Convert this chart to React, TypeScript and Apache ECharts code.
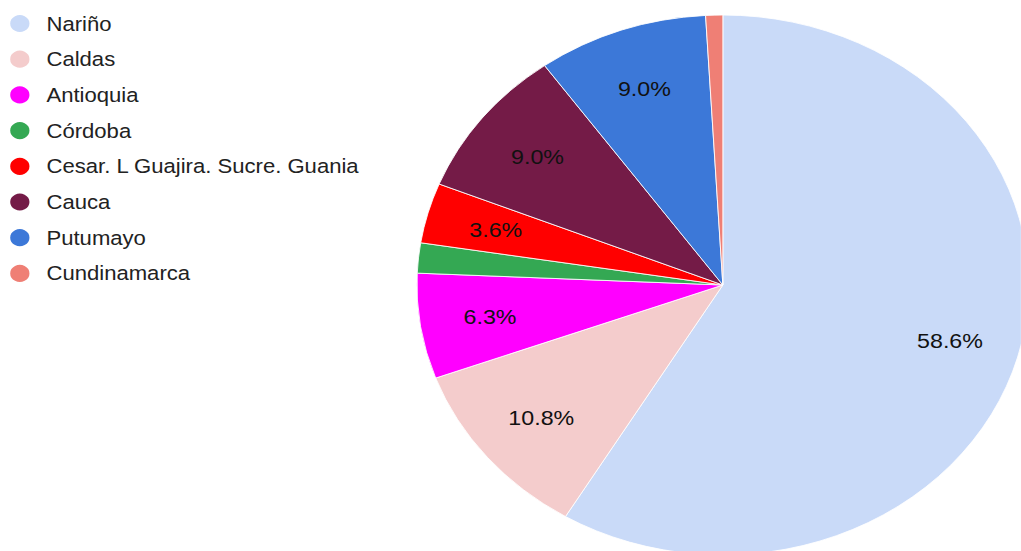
import React, { useEffect, useRef } from "react";
import * as echarts from "echarts";

const categories = [
  "Nariño",
  "Caldas",
  "Antioquia",
  "Córdoba",
  "Cesar. L Guajira. Sucre. Guania",
  "Cauca",
  "Putumayo",
  "Cundinamarca",
];
const shares = [58.6, 10.8, 6.3, 1.8, 3.6, 9.0, 9.0, 0.9];
const colors = [
  "#c9daf8",
  "#f4cccc",
  "#ff00ff",
  "#34a853",
  "#ff0000",
  "#741b47",
  "#3c78d8",
  "#ef7f75",
];

const STRETCH = 1.133;
const FULL_W = 1021;
const FULL_H = 551;
const CHART_W = Math.round(FULL_W / STRETCH);
const FONT = "'Liberation Sans', Arial, Helvetica, sans-serif";

export default function App() {
  const ref = useRef<HTMLDivElement>(null);
  useEffect(() => {
    if (!ref.current) return;
    const chart = echarts.init(ref.current, undefined, { renderer: "svg" });
    const center = [638, 285];
    chart.setOption({
      animation: false,
      backgroundColor: "#ffffff",
      color: colors,
      textStyle: { fontFamily: FONT },
      legend: {
        orient: "vertical",
        left: 2,
        top: 8,
        icon: "circle",
        itemWidth: 37,
        itemHeight: 19,
        itemGap: 14.7,
        data: categories,
        textStyle: { fontSize: 19.5, color: "#222222", fontFamily: FONT },
      },
      series: [
        {
          type: "pie",
          center,
          radius: 270,
          startAngle: 90,
          clockwise: true,
          avoidLabelOverlap: false,
          label: { show: false },
          labelLine: { show: false },
          itemStyle: { borderColor: "#ffffff", borderWidth: 0.8 },
          data: categories.map((name, i) => ({
            name,
            value: shares[i],
            itemStyle: { color: colors[i] },
          })),
        },
        {
          type: "pie",
          center,
          radius: [140, 270],
          startAngle: 90,
          clockwise: true,
          silent: true,
          legendHoverLink: false,
          avoidLabelOverlap: false,
          labelLine: { show: false },
          itemStyle: { color: "rgba(0,0,0,0)" },
          label: {
            show: true,
            position: "inside",
            fontSize: 20.5,
            color: "#111111",
            fontFamily: FONT,
            formatter: (p: any) => (p.value >= 3 ? p.value.toFixed(1) + "%" : ""),
          },
          data: categories.map((name, i) => ({
            name,
            value: shares[i],
            itemStyle: { color: "rgba(0,0,0,0)" },
          })),
        },
      ],
    });
    return () => chart.dispose();
  }, []);

  return (
    <div
      style={{
        position: "fixed",
        left: 0,
        top: 0,
        width: FULL_W,
        height: FULL_H,
        overflow: "hidden",
        background: "#ffffff",
      }}
    >
      <div
        ref={ref}
        style={{
          width: CHART_W,
          height: FULL_H,
          transform: `scaleX(${STRETCH})`,
          transformOrigin: "0 0",
        }}
      />
    </div>
  );
}
